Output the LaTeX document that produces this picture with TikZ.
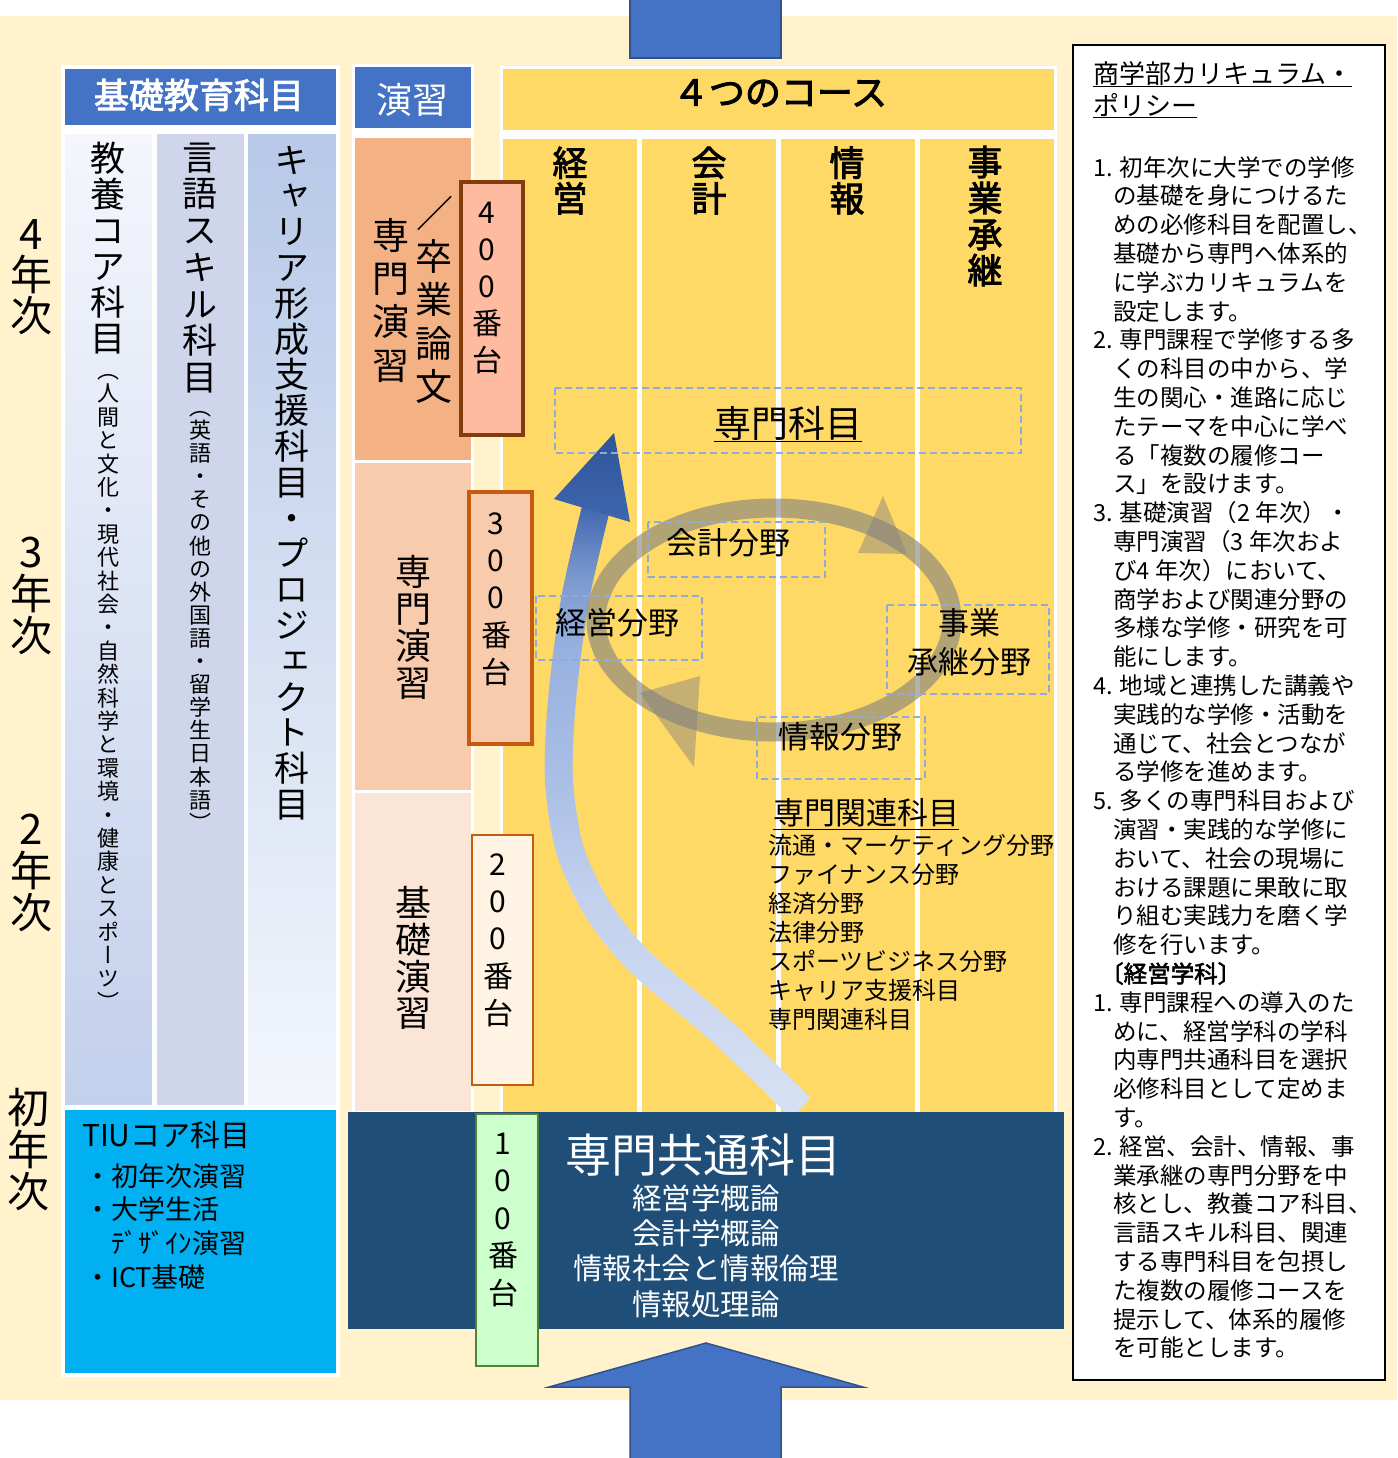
\documentclass[tikz,border=0pt]{standalone}
\usepackage{fontspec}
\setmainfont{Noto Sans CJK JP}
\newfontfamily\jpbf{Noto Sans CJK JP}[FakeBold=2.5]
\newfontfamily\tatefont{Noto Sans CJK JP}[RawFeature=+vert]

\definecolor{cream}{HTML}{FFF2CC}
\definecolor{hdrblue}{HTML}{4472C4}
\definecolor{hdrline}{HTML}{2F528F}
\definecolor{course}{HTML}{FFD966}
\definecolor{zemiA}{HTML}{F4B183}
\definecolor{zemiB}{HTML}{F8CBAD}
\definecolor{zemiC}{HTML}{FBE5D6}
\definecolor{tiublue}{HTML}{00B0F0}
\definecolor{kyotsu}{HTML}{1F4E79}
\definecolor{dashblue}{HTML}{8FAADC}
\definecolor{gengo}{HTML}{CFD5EA}
\definecolor{kyoyoA}{HTML}{F4F6FC}
\definecolor{kyoyoB}{HTML}{B6C7E9}
\definecolor{kyoyoC}{HTML}{C3D0EC}
\definecolor{careerA}{HTML}{B7C9E8}
\definecolor{careerB}{HTML}{CAD7EF}
\definecolor{careerC}{HTML}{F3F6FC}
\definecolor{bandA}{HTML}{D8E1F3}
\definecolor{bandB}{HTML}{C3D1EE}
\definecolor{bandC}{HTML}{ADC1E6}
\definecolor{bandD}{HTML}{98B1DF}
\definecolor{bandE}{HTML}{7D9ACF}
\definecolor{bandF}{HTML}{3F66AE}
\definecolor{headA}{HTML}{2F5597}
\definecolor{headB}{HTML}{3E66B0}
\definecolor{box400}{HTML}{FFBBA0}
\definecolor{line400}{HTML}{843C0C}
\definecolor{line300}{HTML}{C55A11}
\definecolor{box200}{HTML}{FFF3E3}
\definecolor{box100}{HTML}{CCFFCC}
\definecolor{line100}{HTML}{548235}
\definecolor{ringgray}{HTML}{7F7F7F}

\pgfdeclareverticalshading{bandshade}{100bp}{color(0bp)=(bandA); color(25bp)=(bandA); color(43bp)=(bandB); color(51bp)=(bandC); color(63bp)=(bandD); color(69bp)=(bandE); color(75bp)=(bandF); color(100bp)=(bandF)}

% vertical text: one character per line
\makeatletter
\def\tate@stop{\tate@stop}
\def\tate@loop#1{\ifx\tate@stop#1\else
  \hbox to1em{\hss\vrule height.88em depth.12em width0pt\relax#1\hss}%
  \expandafter\tate@loop\fi}
\newcommand\tate[2][1.1em]{\vbox{\baselineskip=#1\lineskiplimit=-\maxdimen\tate@loop#2\tate@stop}}
\makeatother
\newcommand\ind{\hspace*{20pt}}

\begin{document}
\begin{tikzpicture}[x=1pt,y=-1pt,
    cell/.style={draw=white,line width=2pt},
    dashbox/.style={draw=dashblue,line width=2pt,dash pattern=on 7pt off 4pt},
    vlabel/.style={inner sep=0pt,font=\tatefont\fontsize{#1}{#1}\selectfont},
    blabel/.style={inner sep=0pt,font=\jpbf\fontsize{#1}{#1}\selectfont},
    hlabel/.style={inner sep=0pt,font=\fontsize{#1}{#1}\selectfont},
    numbox/.style={line width=4pt}]
    \useasboundingbox (0,0) rectangle (1397,1458);
    \fill[cream] (0,16) rectangle (1397,1400);
    \filldraw[fill=hdrblue,draw=hdrline,line width=1.5pt] (630,-5) rectangle (781,58);

    % 基礎教育科目
    \fill[white] (61,65) rectangle (340,1377);
    \filldraw[fill=hdrblue,cell] (64,68) rectangle (337,126);
    \shadedraw[top color=kyoyoA,middle color=kyoyoB,bottom color=kyoyoC,cell] (64,133) rectangle (153,1106);
    \filldraw[fill=gengo,cell] (156,133) rectangle (245,1106);
    \shadedraw[top color=careerA,middle color=careerB,bottom color=careerC,cell] (247,133) rectangle (337,1106);
    \filldraw[fill=tiublue,cell] (64,1109) rectangle (337,1374);

    % 演習
    \fill[white] (352,64) rectangle (474,1113);
    \filldraw[fill=hdrblue,cell] (354,66) rectangle (472,129);
    \filldraw[fill=zemiA,cell] (354,137) rectangle (472,461);
    \filldraw[fill=zemiB,cell] (354,462) rectangle (472,791);
    \filldraw[fill=zemiC,cell] (354,792) rectangle (472,1112);

    % courses
    \fill[white] (500,66) rectangle (1057,1113);
    \filldraw[fill=course,cell] (502,68) rectangle (1055,131);
    \foreach \x in {502,641,780,919}
        \filldraw[fill=course,cell] (\x,138) rectangle ++(136,975);

    \filldraw[fill=box400,draw=line400,numbox] (461,182) rectangle (523,435);
    \filldraw[fill=zemiB,draw=line300,numbox] (469,492) rectangle (532,744);
    \filldraw[fill=box200,draw=line300,line width=2.5pt] (472,835) rectangle (533,1085);

    % curved arrow
    \shade[shading=bandshade] plot[smooth] coordinates {(582.3,504.9) (561.2,597.6) (548.1,698.8) (545,780.7) (556.6,854) (586.1,917.4) (630.2,972) (710.6,1040.4) (791.3,1118.1)}
        -- plot[smooth] coordinates {(810.7,1097.9) (729.4,1019.6) (649.8,952) (609.9,902.6) (583.4,846) (573,779.3) (575.9,701.2) (588.8,602.4) (609.7,511.1)} -- cycle;
    \shade[top color=headA,bottom color=headB] (554,499) -- (614,433) -- (630,522) -- cycle;

    % ring
    \draw[ringgray,opacity=0.6,line width=19pt] (774,620) ellipse [x radius=178,y radius=112];
    \fill[ringgray,opacity=0.45] (858,553) -- (883,496) -- (907,554) -- cycle;
    \fill[ringgray,opacity=0.45] (640,693) -- (700,676) -- (694,767) -- cycle;

    \draw[dashbox] (555,388) rectangle (1021,453);
    \draw[dashbox] (648,522) rectangle (825,577);
    \draw[dashbox] (536,596) rectangle (702,660);
    \draw[dashbox] (887,605) rectangle (1049,694);
    \draw[dashbox] (757,717) rectangle (925,779);

    % 専門共通科目
    \fill[kyotsu] (348,1112) rectangle (1064,1329);
    \filldraw[fill=box100,draw=line100,line width=2.5pt] (476,1114) rectangle (538,1366);
    \filldraw[fill=hdrblue,draw=hdrline,line width=1.5pt] (630,1465) -- (630,1387) -- (549,1387) -- (706,1343)
        -- (863,1387) -- (781,1387) -- (781,1465);

    \filldraw[fill=white,draw=black,line width=2.5pt] (1073,45) rectangle (1385,1380);

    % year labels
    \node[vlabel=42] (y4) at (31,275) {\tate[41pt]{4年次}};
    \node[vlabel=42] (y3) at (31,594) {\tate[42pt]{3年次}};
    \node[vlabel=42] (y2) at (31,871) {\tate[42pt]{2年次}};
    \node[vlabel=42] (y1) at (29,1150) {\tate[42pt]{初年次}};

    \node[blabel=35,text=white] (kisoHead) at (199,95) {基礎教育科目};
    \node[vlabel=35] (kyoyo) at (108,248) {\tate[36pt]{教養コア科目}};
    \node[vlabel=22] (kyoyoSub) at (108,686) {\tate[23.4pt]{（人間と文化・現代社会・自然科学と環境・健康とスポーツ）}};
    \node[vlabel=35] (gengo) at (200,267) {\tate[36.7pt]{言語スキル科目}};
    \node[vlabel=22] (gengoSub) at (200,615) {\tate[23.1pt]{（英語・その他の外国語・留学生日本語）}};
    \node[vlabel=35] (career) at (292,482) {\tate[35.8pt]{キャリア形成支援科目・プロジェクト科目}};
    \node[hlabel=30,anchor=west] (tiuTitle) at (82,1135) {TIUコア科目};
    \node[anchor=north west,align=left,inner sep=0pt,font=\fontsize{27}{33.7}\selectfont] (tiuList) at (84,1163)
        {・初年次演習\\・大学生活\\\hspace*{27pt}ﾃﾞｻﾞｲﾝ演習\\・ICT基礎};

    \node[hlabel=36,text=white] (enshuHead) at (412,100) {演習};
    \node[vlabel=37] (senmon4) at (391,300) {\tate[43.3pt]{専門演習}};
    \node[hlabel=37] (slash) at (435,213) {／};
    \node[vlabel=37] (sotsuron) at (434,321.5) {\tate[43.3pt]{卒業論文}};
    \node[vlabel=30] (num400) at (487,286) {\tate[37pt]{400番台}};
    \node[vlabel=36] (senmon3) at (413,627) {\tate[37pt]{専門演習}};
    \node[vlabel=30] (num300) at (496,597.5) {\tate[37.2pt]{300番台}};
    \node[vlabel=36] (kisoZemi) at (413,958) {\tate[36.7pt]{基礎演習}};
    \node[vlabel=30] (num200) at (498,938.5) {\tate[37.2pt]{200番台}};
    \node[vlabel=30] (num100) at (503,1218) {\tate[37.5pt]{100番台}};

    \node[blabel=36] (courseHead) at (780,93) {４つのコース};
    \node[blabel=35] (keiei) at (570,180.5) {\tate[35.5pt]{経営}};
    \node[blabel=35] (kaikei) at (709,180.5) {\tate[35.5pt]{会計}};
    \node[blabel=35] (joho) at (847,180.5) {\tate[35.5pt]{情報}};
    \node[blabel=35] (jigyo) at (985,216) {\tate[36pt]{事業承継}};

    \node[hlabel=37] (senmonKamoku) at (788,424) {\underline{専門科目}};
    \node[hlabel=31] (fKaikei) at (728,543) {会計分野};
    \node[hlabel=31] (fKeiei) at (617,623) {経営分野};
    \node[align=center,inner sep=0pt,font=\fontsize{31}{39}\selectfont] (fJigyo) at (969,642.5) {事業\\承継分野};
    \node[hlabel=31] (fJoho) at (840,737) {情報分野};

    \node[hlabel=31,anchor=west] (kanrenTitle) at (773,814) {\underline{専門関連科目}};
    \node[anchor=north west,align=left,inner sep=0pt,font=\fontsize{24}{29}\selectfont] (kanrenList) at (768,834)
        {流通・マーケティング分野\\ファイナンス分野\\経済分野\\法律分野\\スポーツビジネス分野\\キャリア支援科目\\専門関連科目};

    \node[hlabel=46,text=white] (kyotsuTitle) at (703,1155) {専門共通科目};
    \node[align=center,inner sep=0pt,text=white,font=\fontsize{29.5}{35.3}\selectfont] (kyotsuList) at (706,1251)
        {経営学概論\\会計学概論\\情報社会と情報倫理\\情報処理論};

    % policy
    \node[anchor=north west,align=left,inner sep=0pt,font=\fontsize{26}{32}\selectfont] (policyTitle) at (1093,61)
        {\underline{商学部カリキュラム・}\\\underline{ポリシー}};
    \node[anchor=north west,align=left,inner sep=0pt,font=\fontsize{23.5}{28.8}\selectfont] (policy) at (1093,156)
        {1. 初年次に大学での学修\\\ind の基礎を身につけるた\\\ind めの必修科目を配置し、\\\ind 基礎から専門へ体系的\\\ind に学ぶカリキュラムを\\\ind 設定します。\\
         2. 専門課程で学修する多\\\ind くの科目の中から、学\\\ind 生の関心・進路に応じ\\\ind たテーマを中心に学べ\\\ind る「複数の履修コー\\\ind ス」を設けます。\\
         3. 基礎演習（2 年次）・\\\ind 専門演習（3 年次およ\\\ind び4 年次）において、\\\ind 商学および関連分野の\\\ind 多様な学修・研究を可\\\ind 能にします。\\
         4. 地域と連携した講義や\\\ind 実践的な学修・活動を\\\ind 通じて、社会とつなが\\\ind る学修を進めます。\\
         5. 多くの専門科目および\\\ind 演習・実践的な学修に\\\ind おいて、社会の現場に\\\ind おける課題に果敢に取\\\ind り組む実践力を磨く学\\\ind 修を行います。\\
         \hspace*{7pt}{\jpbf 〔経営学科〕}\\
         1. 専門課程への導入のた\\\ind めに、経営学科の学科\\\ind 内専門共通科目を選択\\\ind 必修科目として定めま\\\ind す。\\
         2. 経営、会計、情報、事\\\ind 業承継の専門分野を中\\\ind 核とし、教養コア科目、\\\ind 言語スキル科目、関連\\\ind する専門科目を包摂し\\\ind た複数の履修コースを\\\ind 提示して、体系的履修\\\ind を可能とします。};
\end{tikzpicture}
\end{document}
